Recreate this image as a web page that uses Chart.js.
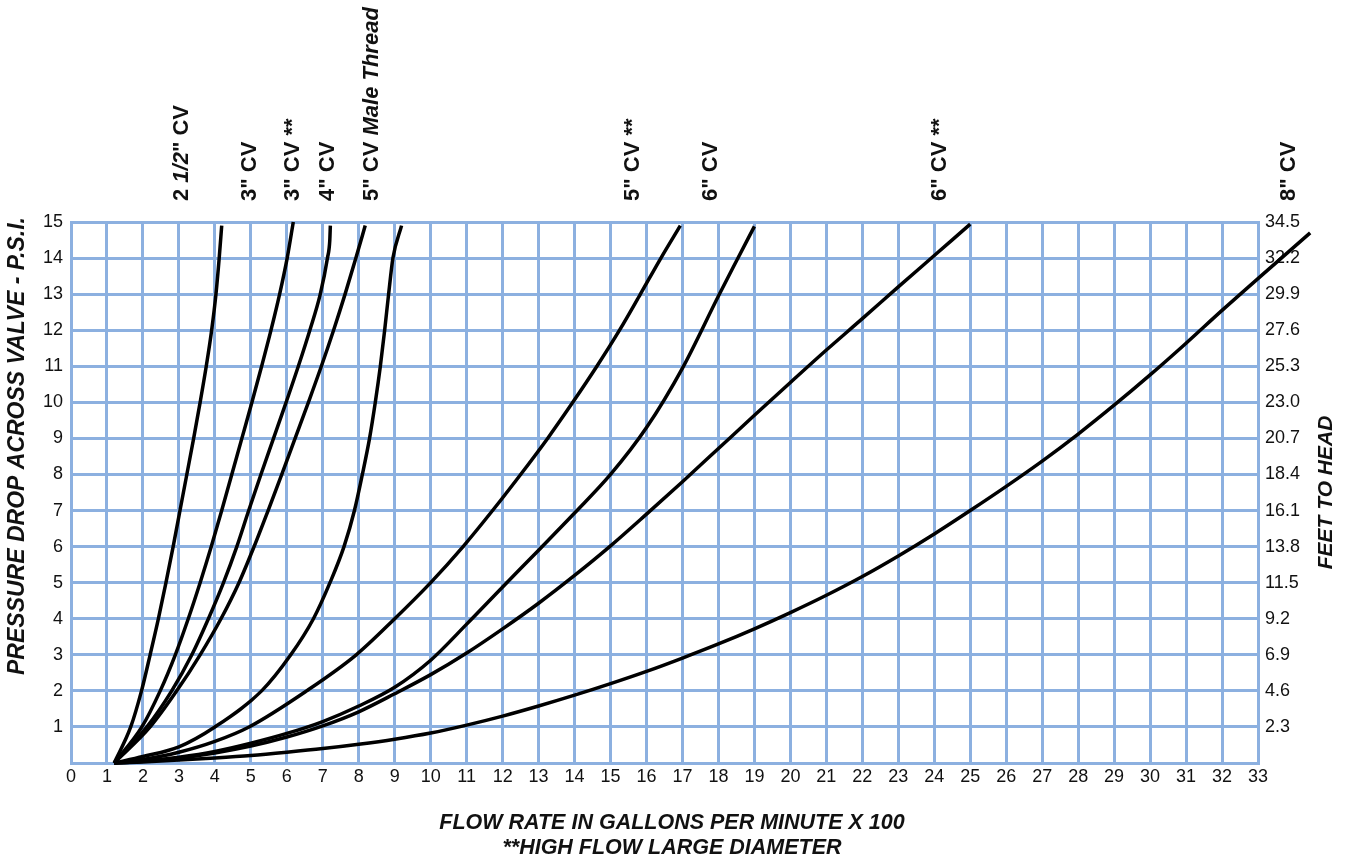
<!DOCTYPE html>
<html>
<head>
<meta charset="utf-8">
<script src="https://cdn.jsdelivr.net/npm/chart.js@4.4.0/dist/chart.umd.min.js"></script>
<style>
  html, body { margin: 0; padding: 0; background: #fff; }
</style>
</head>
<body>
<canvas id="myChart" width="1350" height="861"></canvas>
<script>
// flow (gpm x 100) and pressure drop (psi), one pair per valve
let cv212Flow = [1.2, 1.66, 1.96, 2.2, 2.43, 2.64, 2.84, 3.03, 3.22, 3.41, 3.59, 3.76, 3.91, 4.03, 4.12, 4.19];
let cv212Psi  = [0, 1, 2, 3, 4, 5, 6, 7, 8, 9, 10, 11, 12, 13, 14, 14.9];

let cv3Flow = [1.2, 1.97, 2.48, 2.9, 3.26, 3.59, 3.9, 4.19, 4.47, 4.75, 5.03, 5.3, 5.56, 5.8, 6.01, 6.18];
let cv3Psi  = [0, 1, 2, 3, 4, 5, 6, 7, 8, 9, 10, 11, 12, 13, 14, 15];

let cv3hfFlow = [1.2, 2.11, 2.8, 3.36, 3.82, 4.24, 4.61, 4.94, 5.28, 5.63, 5.98, 6.32, 6.64, 6.93, 7.13, 7.195, 7.21];
let cv3hfPsi  = [0, 1, 2, 3, 4, 5, 6, 7, 8, 9, 10, 11, 12, 13, 14, 14.5, 14.9];

let cv4Flow = [1.2, 2.2, 2.94, 3.59, 4.17, 4.67, 5.09, 5.48, 5.86, 6.23, 6.6, 6.96, 7.3, 7.62, 7.92, 8.18];
let cv4Psi  = [0, 1, 2, 3, 4, 5, 6, 7, 8, 9, 10, 11, 12, 13, 14, 14.9];

let cv5mtFlow = [1.2, 2, 3, 4, 5.3, 6.11, 6.74, 7.2, 7.59, 7.88, 8.1, 8.3, 8.46, 8.6, 8.72, 8.83, 8.95, 9.19];
let cv5mtPsi  = [0, 0.18, 0.45, 1, 2, 3, 4, 5, 6, 7, 8, 9, 10, 11, 12, 13, 14, 14.9];

let cv5hfFlow = [1.2, 2, 3, 4, 4.95, 6.55, 7.93, 9.0, 10.0, 10.9, 11.72, 12.5, 13.25, 13.95, 14.62, 15.25, 15.83, 16.4, 16.94];
let cv5hfPsi  = [0, 0.1, 0.3, 0.6, 1, 2, 3, 4, 5, 6, 7, 8, 9, 10, 11, 12, 13, 14, 14.9];

let cv6Flow = [1.2, 2, 3, 4, 5, 6, 7, 8, 9, 10, 11, 12, 13, 14, 15, 16, 17, 18, 18.5, 19];
let cv6Psi  = [0, 0.05, 0.16, 0.32, 0.55, 0.82, 1.15, 1.58, 2.1, 2.85, 3.85, 4.88, 5.9, 6.93, 8.0, 9.3, 10.95, 12.95, 13.92, 14.88];

let cv6hfFlow = [1.2, 2, 3, 4, 5, 6, 7, 8, 9, 10, 11, 12, 13, 14, 15, 16, 17, 18, 19, 20, 21, 22, 23, 24, 25];
let cv6hfPsi  = [0, 0.05, 0.14, 0.28, 0.47, 0.72, 1.03, 1.42, 1.92, 2.45, 3.05, 3.72, 4.43, 5.2, 6.02, 6.9, 7.8, 8.72, 9.64, 10.55, 11.45, 12.32, 13.2, 14.07, 14.94];

let cv8Flow = [1.2, 2, 3, 4, 5, 6, 7, 8, 9, 10, 11, 12, 13, 14, 15, 16, 17, 18, 19, 20, 21, 22, 23, 24, 25, 26, 27, 28, 29, 30, 31, 32, 34.45];
let cv8Psi  = [0, 0.03, 0.08, 0.14, 0.21, 0.3, 0.4, 0.52, 0.66, 0.83, 1.05, 1.3, 1.58, 1.88, 2.2, 2.54, 2.91, 3.3, 3.72, 4.17, 4.65, 5.17, 5.74, 6.35, 7.0, 7.67, 8.37, 9.12, 9.92, 10.76, 11.64, 12.55, 14.7];

// curve names written above the grid, and the flow value each one is centred on
let curveNames = [
  [["2 ", false], ["1/2", true], ["\" CV", false]],
  [["3\" CV", false]],
  [["3\" CV **", false]],
  [["4\" CV", false]],
  [["5\" CV ", false], ["Male Thread", true]],
  [["5\" CV **", false]],
  [["6\" CV", false]],
  [["6\" CV **", false]],
  [["8\" CV", false]]
];
let curveNameAt = [3.09, 4.98, 6.18, 7.15, 8.36, 15.62, 17.79, 24.15, 33.87];

// right hand axis, feet of head for each psi
let feetLabels = ["", "2.3", "4.6", "6.9", "9.2", "11.5", "13.8", "16.1", "18.4", "20.7", "23.0", "25.3", "27.6", "29.9", "32.2", "34.5"];

let FONT = "'Liberation Sans', Arial, Helvetica, sans-serif";
let GRID = "#8cb0e0";

function pts(xs, ys) {
  return xs.map((x, i) => ({ x: x, y: ys[i] }));
}

function curve(xs, ys) {
  return {
    data: pts(xs, ys),
    borderColor: "#000",
    borderWidth: 3.5,
    pointRadius: 0,
    fill: false,
    cubicInterpolationMode: "monotone",
    clip: false
  };
}

let textPlugin = {
  id: "textPlugin",
  afterDraw(chart) {
    let ctx = chart.ctx;
    let area = chart.chartArea;
    let xs = chart.scales.x;
    ctx.save();
    ctx.fillStyle = "#111";
    ctx.textBaseline = "middle";
    ctx.textAlign = "left";

    // names above the curves
    curveNames.forEach((parts, i) => {
      ctx.save();
      ctx.translate(xs.getPixelForValue(curveNameAt[i]), area.top - 21);
      ctx.rotate(-Math.PI / 2);
      let pos = 0;
      parts.forEach(p => {
        ctx.font = (p[1] ? "italic " : "") + "bold 22px " + FONT;
        ctx.fillText(p[0], pos, 0);
        pos += ctx.measureText(p[0]).width;
      });
      ctx.restore();
    });

    // axis titles
    ctx.textAlign = "center";
    ctx.font = "italic bold 23px " + FONT;
    ctx.save();
    ctx.translate(18, 446);
    ctx.rotate(-Math.PI / 2);
    ctx.fillText("PRESSURE DROP ACROSS VALVE - P.S.I.", 0, 0);
    ctx.restore();

    ctx.font = "italic bold 21px " + FONT;
    ctx.save();
    ctx.translate(1326, (area.top + area.bottom) / 2);
    ctx.rotate(-Math.PI / 2);
    ctx.fillText("FEET TO HEAD", 0, 0);
    ctx.restore();

    ctx.font = "italic bold 21.5px " + FONT;
    ctx.fillText("FLOW RATE IN GALLONS PER MINUTE X 100", 672, 823);
    ctx.fillText("**HIGH FLOW LARGE DIAMETER", 672, 848);
    ctx.restore();
  }
};

let ctx = document.getElementById("myChart").getContext("2d");
let chart = new Chart(ctx, {
  type: "line",
  data: {
    datasets: [
      curve(cv212Flow, cv212Psi),
      curve(cv3Flow, cv3Psi),
      curve(cv3hfFlow, cv3hfPsi),
      curve(cv4Flow, cv4Psi),
      curve(cv5mtFlow, cv5mtPsi),
      curve(cv5hfFlow, cv5hfPsi),
      curve(cv6Flow, cv6Psi),
      curve(cv6hfFlow, cv6hfPsi),
      curve(cv8Flow, cv8Psi)
    ]
  },
  options: {
    responsive: false,
    animation: false,
    layout: { padding: { top: 222, left: 0, right: 0, bottom: 0 } },
    plugins: { legend: { display: false }, tooltip: { enabled: false } },
    scales: {
      x: {
        type: "linear",
        min: 0,
        max: 33,
        afterFit: s => { s.height = 98; },
        ticks: { stepSize: 1, color: "#111", font: { family: FONT, size: 18 }, padding: 3, maxRotation: 0, autoSkip: false },
        grid: { color: GRID, lineWidth: 3, drawTicks: false },
        border: { color: GRID, width: 3 }
      },
      y: {
        type: "linear",
        position: "left",
        min: 0,
        max: 15,
        afterFit: s => { s.width = 71; },
        ticks: {
          stepSize: 1,
          color: "#111",
          font: { family: FONT, size: 18 },
          padding: 8,
          callback: v => (v === 0 ? "" : v)
        },
        grid: { color: GRID, lineWidth: 3, drawTicks: false },
        border: { color: GRID, width: 3 }
      },
      y2: {
        type: "linear",
        position: "right",
        min: 0,
        max: 15,
        afterFit: s => { s.width = 92; },
        ticks: {
          stepSize: 1,
          color: "#111",
          font: { family: FONT, size: 18 },
          padding: 7,
          callback: v => feetLabels[v]
        },
        grid: { display: false, drawTicks: false },
        border: { color: GRID, width: 3 }
      }
    }
  },
  plugins: [textPlugin]
});
</script>
</body>
</html>
